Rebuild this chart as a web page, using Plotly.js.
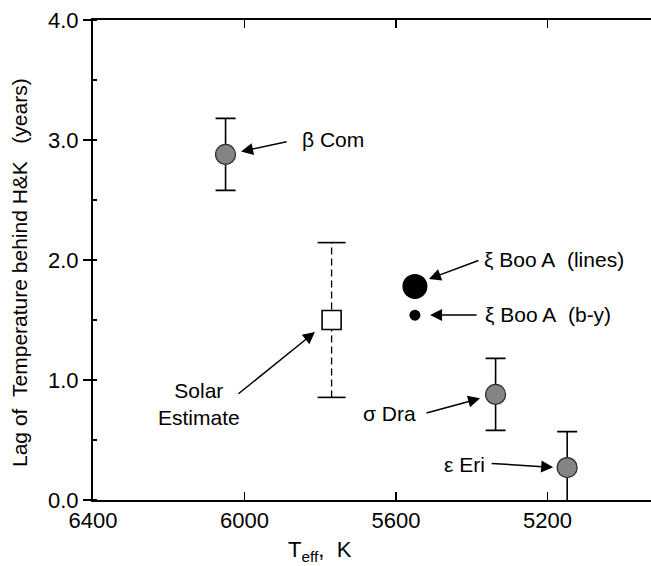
<!DOCTYPE html>
<html>
<head>
<meta charset="utf-8">
<script src="https://cdn.plot.ly/plotly-3.0.1.min.js"></script>
<style>html,body{margin:0;padding:0;background:#fff;}#chart{width:651px;height:566px;}</style>
</head>
<body>
<div id="chart"></div>
<script>
// ---- data ----
const starNames = ['β Com', 'σ Dra', 'ε Eri'];
const starTeff = [6050, 5337, 5148];
const starLag = [2.88, 0.88, 0.27];
const starErr = [0.30, 0.30, 0.30];

const xiBooTeff = [5550];
const xiBooLinesLag = [1.78];
const xiBooByLag = [1.54];

const solarTeff = [5770];
const solarLag = [1.50];
const solarErr = [0.645];

const xTickVals = [6400, 6000, 5600, 5200];
const xTickText = ['6400', '6000', '5600', '5200'];
const yTickVals = [0, 1, 2, 3, 4];
const yTickText = ['0.0', '1.0', '2.0', '3.0', '4.0'];

const FONT = 'Arial, "Liberation Sans", Helvetica, sans-serif';
const NB = '\u00a0';

const traces = [
  {
    x: starTeff, y: starLag, type: 'scatter', mode: 'markers', cliponaxis: false,
    error_y: {type: 'data', array: starErr, visible: true, color: '#000', thickness: 1.6, width: 10},
    marker: {size: 20, color: '#848484', line: {color: '#2a2a2a', width: 1.2}},
    hoverinfo: 'skip'
  },
  {
    x: [solarTeff[0], solarTeff[0]],
    y: [solarLag[0] - solarErr[0], solarLag[0] + solarErr[0]],
    type: 'scatter', mode: 'lines+markers', cliponaxis: false,
    line: {color: '#000', width: 1.3, dash: '7px,4px'},
    marker: {symbol: 'line-ew', size: 20, line: {color: '#000', width: 1.6}},
    hoverinfo: 'skip'
  },
  {
    x: solarTeff, y: solarLag, type: 'scatter', mode: 'markers',
    marker: {symbol: 'square', size: 19, color: '#fff', line: {color: '#000', width: 1.6}},
    hoverinfo: 'skip'
  },
  {
    x: xiBooTeff, y: xiBooLinesLag, type: 'scatter', mode: 'markers',
    marker: {size: 25, color: '#000'}, hoverinfo: 'skip'
  },
  {
    x: xiBooTeff, y: xiBooByLag, type: 'scatter', mode: 'markers',
    marker: {size: 11, color: '#000'}, hoverinfo: 'skip'
  }
];

function arrow(x, y, ax, ay) {
  return {x: x, y: y, xref: 'x', yref: 'y', text: '', showarrow: true,
    ax: ax, ay: ay, axref: 'pixel', ayref: 'pixel',
    arrowhead: 2, arrowsize: 1.6, arrowwidth: 1.5, arrowcolor: '#000', standoff: 0, startstandoff: 0};
}
function label(x, y, text, xanchor) {
  return {x: x, y: y, xref: 'x', yref: 'y', text: text, showarrow: false,
    xanchor: xanchor, yanchor: 'middle', font: {family: FONT, size: 21, color: '#000'}};
}

const annotations = [
  arrow(6009, 2.904, 47, -10),
  label(5853, 3.008, starNames[0], 'left'),
  arrow(5513, 1.842, 51, -19),
  label(5373, 2.008, 'ξ Boo A' + NB + NB + '(lines)', 'left'),
  arrow(5510, 1.542, 48, 0),
  label(5370, 1.542, 'ξ Boo A' + NB + NB + '(b-y)', 'left'),
  arrow(5378, 0.847, -55, 15),
  label(5542, 0.725, starNames[1], 'right'),
  arrow(5185, 0.272, -63, -4),
  label(5360, 0.292, starNames[2], 'right'),
  arrow(5814, 1.40, -78, 63),
  {x: 6120, y: 0.80, xref: 'x', yref: 'y', text: 'Solar<br>Estimate', showarrow: false,
    xanchor: 'center', yanchor: 'middle', align: 'center',
    font: {family: FONT, size: 21, color: '#000'}},
  {x: -0.1317, y: 0.474, xref: 'paper', yref: 'paper', textangle: -90, showarrow: false,
    text: 'Lag of' + NB + NB + 'Temperature behind H&K' + NB + NB + NB + '(years)',
    xanchor: 'center', yanchor: 'middle', font: {family: FONT, size: 21, color: '#000'}},
  {x: 0.407, y: -0.106, xref: 'paper', yref: 'paper', showarrow: false,
    text: 'T<sub>eff</sub>,' + NB + NB + 'K',
    xanchor: 'center', yanchor: 'middle', font: {family: FONT, size: 22, color: '#000'}}
];

const layout = {
  width: 651, height: 566,
  margin: {l: 93, r: 0, t: 20, b: 66},
  paper_bgcolor: '#fff', plot_bgcolor: '#fff',
  showlegend: false,
  xaxis: {
    range: [6400, 4926.7], showgrid: false, zeroline: false,
    showline: true, linecolor: '#000', linewidth: 2, mirror: 'ticks',
    ticks: 'inside', ticklen: 8, tickwidth: 1.5, tickcolor: '#000',
    tickvals: xTickVals, ticktext: xTickText,
    tickfont: {family: FONT, size: 22, color: '#000'}
  },
  yaxis: {
    range: [0, 4], showgrid: false, zeroline: false,
    showline: true, linecolor: '#000', linewidth: 2,
    ticks: 'outside', ticklen: 8, tickwidth: 1.5, tickcolor: '#000',
    tickvals: yTickVals, ticktext: yTickText,
    tickfont: {family: FONT, size: 22, color: '#000'},
    minor: {ticks: 'inside', dtick: 0.5, tick0: 0, ticklen: 4, tickwidth: 1.2, tickcolor: '#000', showgrid: false}
  },
  annotations: annotations
};

Plotly.newPlot('chart', traces, layout, {displayModeBar: false, staticPlot: true});
</script>
</body>
</html>
